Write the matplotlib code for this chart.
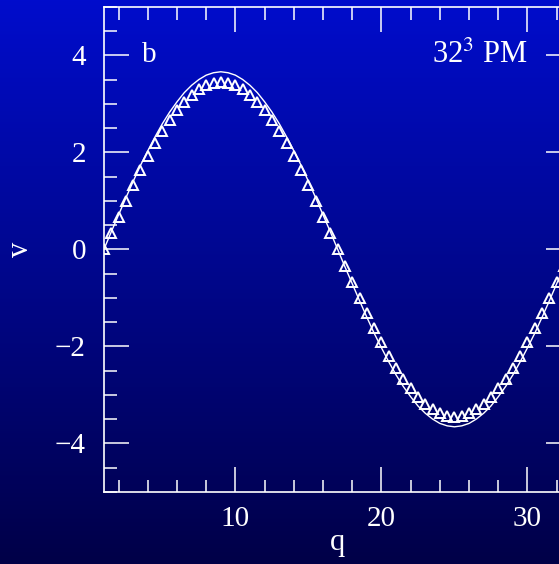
import numpy as np
import matplotlib
matplotlib.use('Agg')
import matplotlib.pyplot as plt
from matplotlib.ticker import MultipleLocator

# q positions (half-integer steps from 1 to 33)
q = [1.0 + 0.5 * i for i in range(65)]

# solid curve values
v_line = [0.00, 0.36, 0.71, 1.06, 1.40, 1.73, 2.03, 2.32, 2.59, 2.83, 3.04, 3.23, 3.38, 3.50, 3.59, 3.64,
          3.66, 3.64, 3.59, 3.50, 3.38, 3.23, 3.04, 2.83, 2.59, 2.32, 2.03, 1.73, 1.40, 1.06, 0.71, 0.36,
          0.00, -0.36, -0.71, -1.06, -1.40, -1.73, -2.03, -2.32, -2.59, -2.83, -3.04, -3.23, -3.38, -3.50, -3.59, -3.64,
          -3.66, -3.64, -3.59, -3.50, -3.38, -3.23, -3.04, -2.83, -2.59, -2.32, -2.03, -1.73, -1.40, -1.06, -0.71, -0.36,
          0.00]

# triangle points (PM run)
v_pm = [0.00, 0.34, 0.67, 1.00, 1.32, 1.63, 1.92, 2.19, 2.44, 2.67, 2.87, 3.04, 3.19, 3.30, 3.38, 3.43,
        3.45, 3.43, 3.38, 3.30, 3.19, 3.04, 2.87, 2.67, 2.44, 2.19, 1.92, 1.63, 1.32, 1.00, 0.67, 0.34,
        0.00, -0.34, -0.67, -1.00, -1.32, -1.63, -1.92, -2.19, -2.44, -2.67, -2.87, -3.04, -3.19, -3.30, -3.38, -3.43,
        -3.45, -3.43, -3.38, -3.30, -3.19, -3.04, -2.87, -2.67, -2.44, -2.19, -1.92, -1.63, -1.32, -1.00, -0.67, -0.34,
        0.00]

plt.rcParams['font.family'] = ['Liberation Serif', 'DejaVu Serif']
plt.rcParams['mathtext.fontset'] = 'stix'

fig = plt.figure(figsize=(5.59, 5.64), dpi=100)

# blue gradient background
bg = fig.add_axes([0, 0, 1, 1], zorder=-10)
top_col = np.array([0.0, 0.05, 0.80])
bot_col = np.array([0.0, 0.0, 0.28])
t = np.linspace(0, 1, 256)[:, None]
grad = top_col[None, :] * (1 - t) + bot_col[None, :] * t
bg.imshow(grad[:, None, :], aspect='auto', extent=[0, 1, 0, 1])
bg.axis('off')

ax = fig.add_axes([0.186, 0.128, 0.836, 0.860])
ax.patch.set_alpha(0)

ax.plot(q, v_line, color='white', lw=1.0)
ax.plot(q, v_pm, linestyle='none', marker='^', markersize=7.5, markerfacecolor='none',
        markeredgecolor='white', markeredgewidth=1.4)

ax.set_xlim(1, 33)
ax.set_ylim(-5, 5)
ax.xaxis.set_major_locator(MultipleLocator(10))
ax.xaxis.set_minor_locator(MultipleLocator(2))
ax.yaxis.set_major_locator(MultipleLocator(2))
ax.yaxis.set_minor_locator(MultipleLocator(0.5))

for s in ax.spines.values():
    s.set_color('white')
    s.set_linewidth(1.2)
ax.tick_params(which='both', direction='in', top=True, right=True, colors='white', labelsize=21, width=1.1)
ax.tick_params(which='major', length=18)
ax.tick_params(axis='x', which='major', pad=10)
ax.tick_params(axis='y', which='major', pad=13)
ax.tick_params(which='minor', length=9)

ax.set_xlabel('q', color='white', fontsize=22, labelpad=-3)
ax.set_ylabel('v', color='white', fontsize=22, labelpad=14)

ax.text(4.1, 4, 'b', color='white', fontsize=21, ha='center', va='center')
ax.text(30.0, 4, r'32$^3$ PM', color='white', fontsize=22, ha='right', va='center')

fig.savefig('out.png', dpi=100)
